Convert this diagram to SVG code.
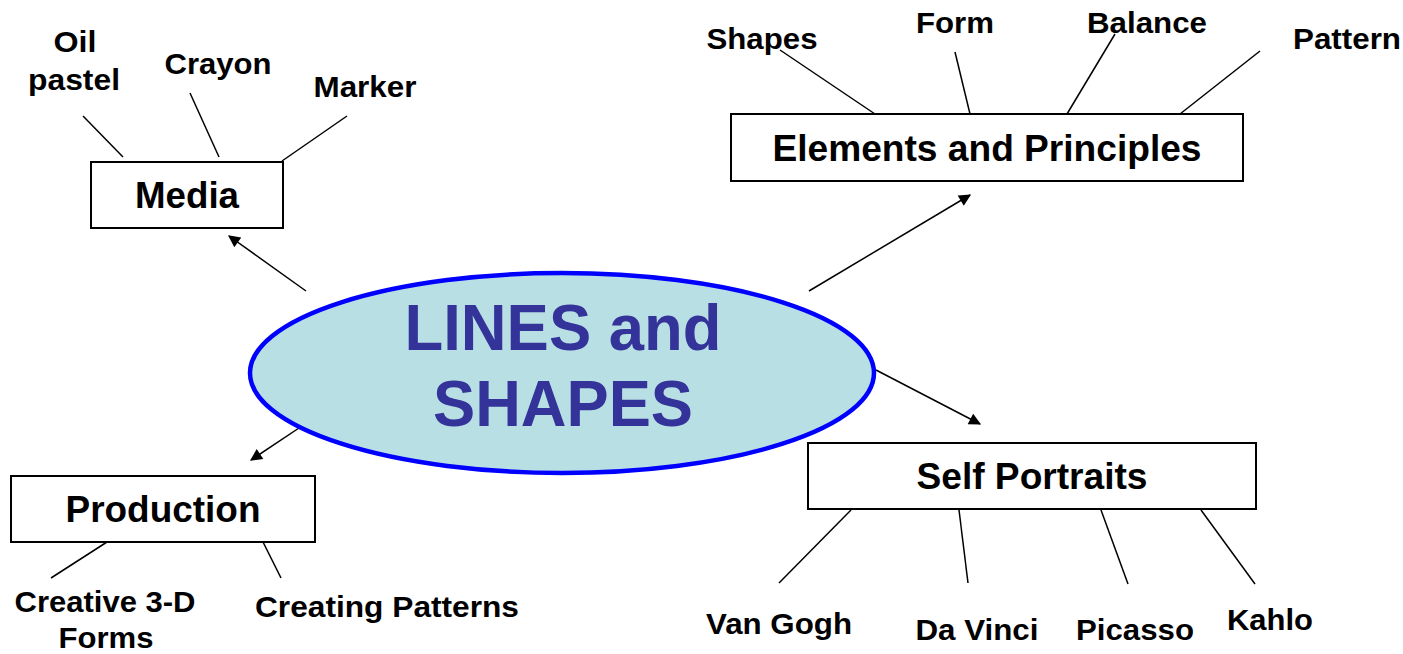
<svg xmlns="http://www.w3.org/2000/svg" width="1403" height="654" viewBox="0 0 1403 654">
<style>
.box{fill:#fff;stroke:#000;stroke-width:2}
.t{font-family:"Liberation Sans",Arial,sans-serif;font-weight:bold;fill:#000;text-anchor:middle}
.big{font-size:36px}
.lbl{font-size:30px}
.ctr{font-size:64px;fill:#333399}
.ln{stroke:#000;stroke-width:1.5;fill:none}
.arr{stroke:#000;stroke-width:1.5;fill:none;marker-end:url(#ah)}
</style>
<defs>
<marker id="ah" viewBox="0 0 10 10" refX="9" refY="5" markerWidth="16" markerHeight="12" markerUnits="userSpaceOnUse" orient="auto">
<path d="M0,0 L10,5 L0,10 z" fill="#000"/>
</marker>
</defs>
<rect width="1403" height="654" fill="#fff"/>
<g id="connectors">
<line class="arr" x1="306" y1="291" x2="229" y2="236"/>
<line class="arr" x1="809" y1="291" x2="970" y2="195"/>
<line class="arr" x1="876" y1="370" x2="980" y2="424"/>
<line class="arr" x1="299" y1="428" x2="251" y2="460"/>
<line class="ln" x1="83" y1="116" x2="123" y2="157"/>
<line class="ln" x1="190" y1="93" x2="219" y2="157"/>
<line class="ln" x1="347" y1="116" x2="282" y2="161"/>
<line class="ln" x1="780" y1="50" x2="875" y2="114"/>
<line class="ln" x1="955" y1="52" x2="970" y2="114"/>
<line class="ln" x1="1115" y1="34" x2="1067" y2="114"/>
<line class="ln" x1="1260" y1="51" x2="1180" y2="114"/>
<line class="ln" x1="851" y1="510" x2="779" y2="583"/>
<line class="ln" x1="959" y1="510" x2="968" y2="583"/>
<line class="ln" x1="1101" y1="510" x2="1128" y2="584"/>
<line class="ln" x1="1201" y1="510" x2="1255" y2="584"/>
<line class="ln" x1="107" y1="542" x2="51" y2="578"/>
<line class="ln" x1="263" y1="542" x2="281" y2="578"/>
</g>
<g id="center">
<ellipse cx="562" cy="373" rx="312" ry="100" fill="#B8DFE4" stroke="#0000FF" stroke-width="4.5"/>
<text class="t ctr" x="563" y="350" textLength="317" lengthAdjust="spacingAndGlyphs">LINES and</text>
<text class="t ctr" x="563" y="426" textLength="260" lengthAdjust="spacingAndGlyphs">SHAPES</text>
</g>
<g id="media">
<rect class="box" x="91" y="162" width="192" height="66"/>
<text class="t big" x="187" y="208" textLength="104" lengthAdjust="spacingAndGlyphs">Media</text>
</g>
<g id="elements">
<rect class="box" x="731" y="114" width="512" height="67"/>
<text class="t big" x="987" y="161" textLength="429" lengthAdjust="spacingAndGlyphs">Elements and Principles</text>
</g>
<g id="selfportraits">
<rect class="box" x="808" y="443" width="448" height="66"/>
<text class="t big" x="1032" y="489" textLength="231" lengthAdjust="spacingAndGlyphs">Self Portraits</text>
</g>
<g id="production">
<rect class="box" x="11" y="476" width="304" height="66"/>
<text class="t big" x="163" y="522" textLength="195" lengthAdjust="spacingAndGlyphs">Production</text>
</g>
<g id="oilpastel"><text class="t lbl" x="75" y="52" textLength="43" lengthAdjust="spacingAndGlyphs">Oil</text><text class="t lbl" x="74" y="90" textLength="92" lengthAdjust="spacingAndGlyphs">pastel</text></g>
<g id="crayon"><text class="t lbl" x="218" y="74" textLength="107" lengthAdjust="spacingAndGlyphs">Crayon</text></g>
<g id="marker"><text class="t lbl" x="365" y="97" textLength="103" lengthAdjust="spacingAndGlyphs">Marker</text></g>
<g id="shapes"><text class="t lbl" x="762" y="49" textLength="111" lengthAdjust="spacingAndGlyphs">Shapes</text></g>
<g id="form"><text class="t lbl" x="955" y="33" textLength="78" lengthAdjust="spacingAndGlyphs">Form</text></g>
<g id="balance"><text class="t lbl" x="1147" y="33" textLength="120" lengthAdjust="spacingAndGlyphs">Balance</text></g>
<g id="pattern"><text class="t lbl" x="1347" y="49" textLength="108" lengthAdjust="spacingAndGlyphs">Pattern</text></g>
<g id="creative3d"><text class="t lbl" x="105" y="612" textLength="181" lengthAdjust="spacingAndGlyphs">Creative 3-D</text><text class="t lbl" x="106" y="648" textLength="95" lengthAdjust="spacingAndGlyphs">Forms</text></g>
<g id="creatingpatterns"><text class="t lbl" x="387" y="617" textLength="264" lengthAdjust="spacingAndGlyphs">Creating Patterns</text></g>
<g id="vangogh"><text class="t lbl" x="779" y="634" textLength="146" lengthAdjust="spacingAndGlyphs">Van Gogh</text></g>
<g id="davinci"><text class="t lbl" x="977" y="640" textLength="123" lengthAdjust="spacingAndGlyphs">Da Vinci</text></g>
<g id="picasso"><text class="t lbl" x="1135" y="640" textLength="118" lengthAdjust="spacingAndGlyphs">Picasso</text></g>
<g id="kahlo"><text class="t lbl" x="1270" y="630" textLength="86" lengthAdjust="spacingAndGlyphs">Kahlo</text></g>
</svg>
